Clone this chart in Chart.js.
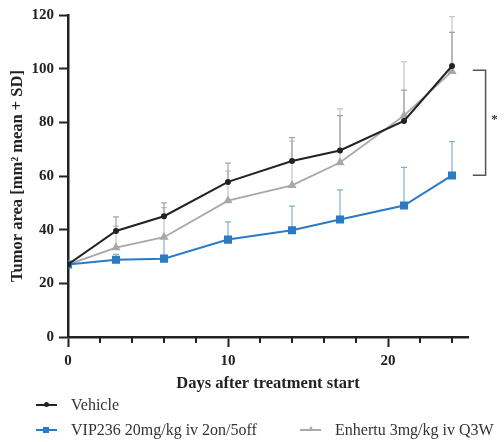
<!DOCTYPE html>
<html>
<head>
<meta charset="utf-8">
<script src="https://cdn.jsdelivr.net/npm/chart.js@4.4.1/dist/chart.umd.min.js"></script>
<style>
body { margin: 0; background: #fff; }
#wrap { position: relative; width: 504px; height: 442px; }
.leg { position: absolute; font-family: 'Liberation Serif', serif; font-size: 16px; color: #333; line-height: 18px; white-space: nowrap; }
.leg .ln { position: absolute; top: 8px; height: 2px; width: 21px; }
.leg .mk { position: absolute; }
</style>
</head>
<body>
<div id="wrap">
<canvas id="tumorChart" width="504" height="442"></canvas>

<div class="leg" style="left:36px;top:396px;width:120px;">
  <span class="ln" style="left:0;background:#222;"></span>
  <span class="mk" style="left:8px;top:6px;width:5px;height:5px;border-radius:50%;background:#222;"></span>
  <span style="position:absolute;left:35px;top:0;">Vehicle</span>
</div>
<div class="leg" style="left:36px;top:421px;width:250px;">
  <span class="ln" style="left:0;background:#2a7bc4;"></span>
  <span class="mk" style="left:7px;top:6px;width:6px;height:6px;background:#2a7bc4;"></span>
  <span style="position:absolute;left:35px;top:0;">VIP236 20mg/kg iv 2on/5off</span>
</div>
<div class="leg" style="left:300px;top:421px;width:204px;">
  <span class="ln" style="left:0;background:#aaa;height:1.5px;"></span>
  <span class="mk" style="left:8px;top:5px;width:0;height:0;border-left:3px solid transparent;border-right:3px solid transparent;border-bottom:5px solid #aaa;"></span>
  <span style="position:absolute;left:35px;top:0;">Enhertu 3mg/kg iv Q3W</span>
</div>
</div>

<script>
// days of measurement
const days = [0, 3, 6, 10, 14, 17, 21, 24];

// mean tumor area (mm2)
const vehicle = [27, 39.5, 45, 57.8, 65.6, 69.5, 80.5, 101];
const vip236  = [27, 28.8, 29.2, 36.3, 39.8, 43.8, 49, 60.2];
const enhertu = [27, 33.3, 37.2, 50.8, 56.5, 65, 82.5, 99];

// SD (upper bars only)
const vehicleSD = [0, 5.3, 5, 7, 8.7, 13, 11.5, 12.5];
const vip236SD  = [0, 2, 7.5, 6.6, 9, 11, 14.2, 12.6];
const enhertuSD = [0, 8, 11, 11, 16.5, 20, 20, 20.4];

const yTicks = [0, 20, 40, 60, 80, 100, 120];
const xLabels = [0, 10, 20];

const black = '#222';
const blue = '#2a7bc4';
const grey = '#a8a8a8';
const serif = "'Liberation Serif', 'Times New Roman', serif";

function pts(vals) {
    return days.map((d, i) => ({ x: d, y: vals[i] }));
}

// draws the + SD whiskers
const errorBars = {
    id: 'errorBars',
    beforeDatasetsDraw(chart) {
        const { ctx, scales: { x, y } } = chart;
        chart.data.datasets.forEach((ds) => {
            ctx.save();
            ctx.strokeStyle = ds.errColor;
            ctx.lineWidth = 1.2;
            ds.data.forEach((p, j) => {
                const sd = ds.sd[j];
                if (!sd) return;
                const px = x.getPixelForValue(p.x);
                const py = y.getPixelForValue(p.y);
                const pt = y.getPixelForValue(p.y + sd);
                ctx.beginPath();
                ctx.moveTo(px, py);
                ctx.lineTo(px, pt);
                ctx.moveTo(px - 3, pt);
                ctx.lineTo(px + 3, pt);
                ctx.stroke();
            });
            ctx.restore();
        });
    }
};

// short minor ticks on the x axis + significance bracket
const extras = {
    id: 'extras',
    afterDraw(chart) {
        const { ctx, scales: { x, y } } = chart;
        ctx.save();
        ctx.strokeStyle = black;
        ctx.lineWidth = 2;
        const base = y.getPixelForValue(0);
        for (let d = 2; d <= 24; d += 2) {
            if (d % 10 === 0) continue;
            const px = x.getPixelForValue(d);
            ctx.beginPath();
            ctx.moveTo(px, base);
            ctx.lineTo(px, base + 6);
            ctx.stroke();
        }
        // bracket
        ctx.strokeStyle = '#555';
        ctx.lineWidth = 1.5;
        const bx = x.getPixelForValue(26.1);
        const tx = x.getPixelForValue(25.3);
        const top = y.getPixelForValue(99.4);
        const bot = y.getPixelForValue(60.3);
        ctx.beginPath();
        ctx.moveTo(tx, top);
        ctx.lineTo(bx, top);
        ctx.lineTo(bx, bot);
        ctx.lineTo(tx, bot);
        ctx.stroke();
        ctx.fillStyle = '#333';
        ctx.font = 'bold 13px ' + serif;
        ctx.textAlign = 'center';
        ctx.textBaseline = 'middle';
        ctx.fillText('*', x.getPixelForValue(26.65), y.getPixelForValue(81));
        ctx.restore();
    }
};

const ctx = document.getElementById('tumorChart').getContext('2d');

new Chart(ctx, {
    type: 'line',
    data: {
        datasets: [{
            label: 'Vehicle',
            data: pts(vehicle),
            sd: vehicleSD,
            errColor: 'rgba(90,90,90,0.55)',
            borderColor: black,
            backgroundColor: black,
            borderWidth: 2,
            pointStyle: 'circle',
            pointRadius: 2,
            tension: 0
        }, {
            label: 'VIP236 20mg/kg iv 2on/5off',
            data: pts(vip236),
            sd: vip236SD,
            errColor: 'rgba(42,123,196,0.6)',
            borderColor: blue,
            backgroundColor: blue,
            borderWidth: 2,
            pointStyle: 'rect',
            pointRadius: 4.3,
            tension: 0
        }, {
            label: 'Enhertu 3mg/kg iv Q3W',
            data: pts(enhertu),
            sd: enhertuSD,
            errColor: 'rgba(160,160,160,0.6)',
            borderColor: grey,
            backgroundColor: grey,
            borderWidth: 1.8,
            pointStyle: 'triangle',
            pointRadius: 3.5,
            tension: 0
        }]
    },
    options: {
        responsive: false,
        animation: false,
        layout: { padding: { left: 0, right: 36, top: 15, bottom: 48 } },
        plugins: {
            legend: { display: false },
            tooltip: { enabled: false }
        },
        scales: {
            x: {
                type: 'linear',
                min: 0,
                max: 25,
                border: { color: black, width: 2.5 },
                grid: {
                    drawOnChartArea: false,
                    tickLength: 10,
                    tickWidth: 2,
                    tickColor: (c) => (c.tick && c.tick.value % 10 === 0) ? black : 'rgba(0,0,0,0)'
                },
                ticks: {
                    stepSize: 2,
                    includeBounds: false,
                    autoSkip: false,
                    maxRotation: 0,
                    padding: 5,
                    color: black,
                    font: { family: serif, size: 15, weight: 'bold' },
                    callback: (v) => xLabels.includes(v) ? String(v) : ''
                },
                title: {
                    display: true,
                    text: 'Days after treatment start',
                    color: black,
                    padding: { top: 0, bottom: 0 },
                    font: { family: serif, size: 16.5, weight: 'bold' }
                },
                afterFit: (s) => { s.height = 57; }
            },
            y: {
                min: 0,
                max: 120,
                border: { color: black, width: 2.5 },
                grid: {
                    drawOnChartArea: false,
                    tickLength: 9,
                    tickWidth: 2,
                    tickColor: black
                },
                afterBuildTicks: (s) => { s.ticks = yTicks.map(v => ({ value: v })); },
                ticks: {
                    padding: 5,
                    color: black,
                    font: { family: serif, size: 15, weight: 'bold' }
                },
                title: {
                    display: true,
                    text: 'Tumor area [mm² mean + SD]',
                    color: black,
                    padding: { top: 8, bottom: 0 },
                    font: { family: serif, size: 16.5, weight: 'bold' }
                },
                afterFit: (s) => { s.width = 68; }
            }
        }
    },
    plugins: [errorBars, extras]
});
</script>
</body>
</html>
